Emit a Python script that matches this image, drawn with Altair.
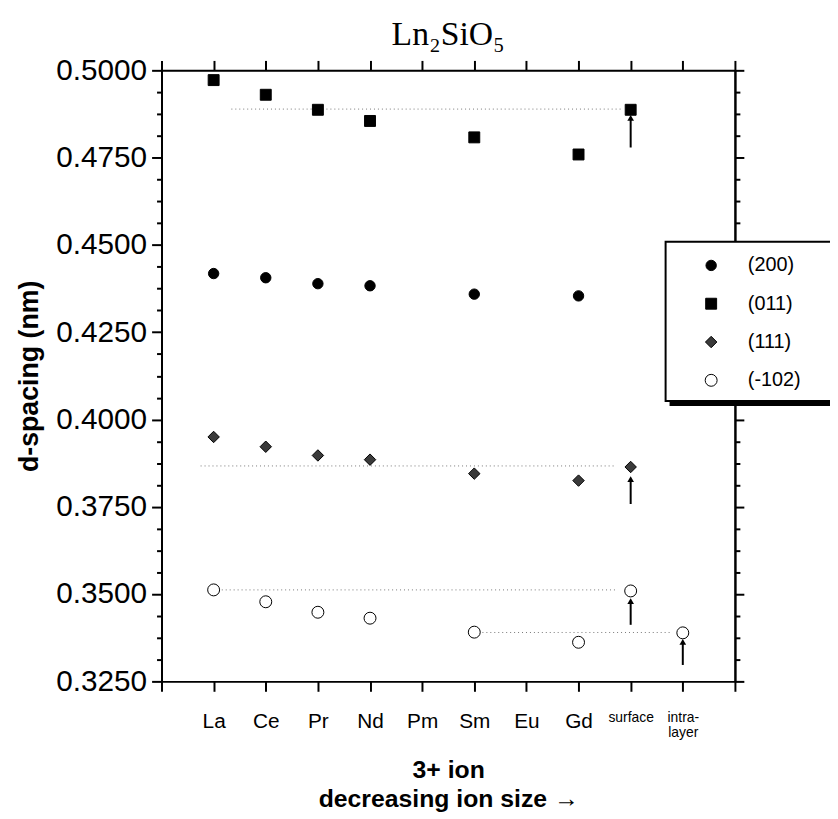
import json
import altair as alt
import pandas as pd

# ---------------- data ----------------
categories = ["La", "Ce", "Pr", "Nd", "Pm", "Sm", "Eu", "Gd", "surface", "intra-layer"]
series_names = ["(200)", "(011)", "(111)", "(-102)"]

d_200 = [0.4418, 0.4406, 0.4389, 0.4383, None, 0.4359, None, 0.4354, None, None]
d_011 = [0.4972, 0.4930, 0.4887, 0.4855, None, 0.4808, None, 0.4759, 0.4887, None]
d_111 = [0.3950, 0.3922, 0.3897, 0.3885, None, 0.3845, None, 0.3825, 0.3864, None]
d_m102 = [0.3512, 0.3478, 0.3448, 0.3431, None, 0.3391, None, 0.3362, 0.3509, 0.3389]

# dotted reference lines (level, start index, end index)
ref_level = [0.4889, 0.3867, 0.3512, 0.3390]
ref_start = [0.34, -0.25, 0.08, 5.08]
ref_end = [7.83, 7.70, 7.75, 8.75]

# arrows (category index, tip value, tail value)
arrow_idx = [8, 8, 8, 9]
arrow_tip = [0.4864, 0.3829, 0.3480, 0.3363]
arrow_tail = [0.4779, 0.3758, 0.3412, 0.3297]

y_major = [0.3250, 0.3500, 0.3750, 0.4000, 0.4250, 0.4500, 0.4750, 0.5000]
y_minor = [round(0.325 + 0.00625 * k, 5) for k in range(29) if k % 4 != 0]
x_ticks = list(range(-1, 11))

# ---------------- tables ----------------
rows = []
for name, vals in zip(series_names, [d_200, d_011, d_111, d_m102]):
    for i, v in enumerate(vals):
        if v is not None:
            rows.append({"series": name, "kind": name, "idx": i, "value": v})
points = pd.DataFrame(rows)
refs = pd.DataFrame({"level": ref_level, "x0": ref_start, "x1": ref_end})
arrows = pd.DataFrame({"idx": arrow_idx, "tip": arrow_tip, "tail": arrow_tail})
legend_rows = pd.DataFrame({"series": series_names, "kind": series_names,
                            "row": list(range(len(series_names)))})

label_lines = [c.replace("intra-layer", "intra-|layer").split("|") for c in categories]
label_expr = ("datum.value >= 0 && datum.value <= 9 ? " + json.dumps(label_lines)
              + "[datum.value] : ''")

FONT = "Liberation Sans"
xs = alt.Scale(domain=[-1, 10], nice=False, zero=False)
ys = alt.Scale(domain=[0.325, 0.5], nice=False, zero=False)
# legend box placement (plot-area pixels)
LEG_L, LEG_T, LEG_B = 509, 173, 334
rows_scale = alt.Scale(domain=[0, 3], range=[197, 313], nice=False, zero=False)

common = dict(domainColor="black", domainWidth=2, tickColor="black", tickWidth=2,
              grid=False)

bottom_axis = alt.Axis(
    orient="bottom", values=x_ticks, labelExpr=label_expr, tickSize=10,
    labelFont=FONT, labelColor="black",
    labelFontSize={"condition": {"test": "datum.value >= 8", "value": 14}, "value": 21},
    labelPadding=20, labelBaseline="top", labelLineHeight=15, labelOverlap=False,
    labelFlush=False,
    title=["3+ ion", "decreasing ion size \u2192"], titleFont=FONT, titleFontSize=25,
    titleFontWeight="bold", titleColor="black", titlePadding=18, titleLineHeight=29,
    **common)
top_axis = alt.Axis(orient="top", values=x_ticks, labels=False, tickSize=10,
                    title=None, **common)
left_major = alt.Axis(
    orient="left", values=y_major, format=".4f", tickSize=10, labelFont=FONT,
    labelFontSize=30, labelColor="black", labelPadding=5, labelOverlap=False,
    title="d-spacing (nm)", titleFont=FONT, titleFontSize=27, titleFontWeight="bold",
    titleColor="black", titlePadding=12, **common)
left_minor = alt.Axis(orient="left", values=y_minor, labels=False, tickSize=5,
                      title=None, **common)
right_major = alt.Axis(orient="right", values=y_major, labels=False, tickSize=9,
                       title=None, **common)
right_minor = alt.Axis(orient="right", values=y_minor, labels=False, tickSize=5,
                       title=None, **common)

shape_scale = alt.Scale(domain=series_names, range=["circle", "square", "diamond", "circle"])
fill_scale = alt.Scale(domain=series_names, range=["black", "black", "#3a3a3a", "white"])
size_scale = alt.Scale(domain=series_names, range=[110, 145, 420, 115])
sw_scale = alt.Scale(domain=series_names, range=[1, 1, 1.2, 2.6])

pts = alt.Chart(points).mark_point(filled=True, stroke="black", opacity=1).encode(
    x=alt.X("idx:Q", scale=xs, axis=bottom_axis),
    y=alt.Y("value:Q", scale=ys, axis=left_major),
    shape=alt.Shape("series:N", scale=shape_scale, legend=None),
    fill=alt.Fill("series:N", scale=fill_scale, legend=None),
    size=alt.Size("kind:N", scale=size_scale, legend=None),
    strokeWidth=alt.StrokeWidth("kind:N", scale=sw_scale, legend=None),
)

axis_b = alt.Chart(points).mark_point(opacity=0).encode(
    x=alt.X("idx:Q", scale=xs, axis=top_axis),
    y=alt.Y("value:Q", scale=ys, axis=left_minor))
axis_c = alt.Chart(points).mark_point(opacity=0).encode(
    x=alt.X("idx:Q", scale=xs, axis=None),
    y=alt.Y("value:Q", scale=ys, axis=right_major))
axis_d = alt.Chart(points).mark_point(opacity=0).encode(
    x=alt.X("idx:Q", scale=xs, axis=None),
    y=alt.Y("value:Q", scale=ys, axis=right_minor))

lines = alt.Chart(refs).mark_rule(color="#777777", strokeWidth=1, strokeDash=[1, 3]).encode(
    x=alt.X("x0:Q", scale=xs, axis=None),
    x2="x1:Q",
    y=alt.Y("level:Q", scale=ys, axis=None))

shafts = alt.Chart(arrows).mark_rule(color="black", strokeWidth=2).encode(
    x=alt.X("idx:Q", scale=xs, axis=None),
    y=alt.Y("tip:Q", scale=ys, axis=None),
    y2="tail:Q")
heads = alt.Chart(arrows).mark_point(shape="triangle-up", filled=True, color="black",
                                     size=45, opacity=1).encode(
    x=alt.X("idx:Q", scale=xs, axis=None),
    y=alt.Y("tip:Q", scale=ys, axis=None))

# ---------------- legend (boxed, with drop shadow) ----------------
one = alt.Data(values=[{"k": 1}])
shadow = alt.Chart(one).mark_rect(color="black").encode(
    x=alt.value(LEG_L + 4), x2=alt.value(LEG_L + 240),
    y=alt.value(LEG_T + 5), y2=alt.value(LEG_B + 5))
box = alt.Chart(one).mark_rect(fill="white", stroke="black", strokeWidth=2).encode(
    x=alt.value(LEG_L), x2=alt.value(LEG_L + 236),
    y=alt.value(LEG_T), y2=alt.value(LEG_B))
leg_sym = alt.Chart(legend_rows).mark_point(filled=True, stroke="black", opacity=1).encode(
    x=alt.value(LEG_L + 46),
    y=alt.Y("row:Q", scale=rows_scale, axis=None),
    shape=alt.Shape("series:N", scale=shape_scale, legend=None),
    fill=alt.Fill("series:N", scale=fill_scale, legend=None),
    size=alt.Size("kind:N", scale=size_scale, legend=None),
    strokeWidth=alt.StrokeWidth("kind:N", scale=sw_scale, legend=None))
leg_txt = alt.Chart(legend_rows).mark_text(align="left", baseline="middle", font=FONT,
                                           fontSize=20, color="black").encode(
    x=alt.value(LEG_L + 83),
    y=alt.Y("row:Q", scale=rows_scale, axis=None),
    text="series:N")

chart = alt.layer(
    axis_b, axis_c, axis_d, lines, shafts, heads, pts, shadow, box, leg_sym, leg_txt
).resolve_axis(x="independent", y="independent").resolve_scale(y="independent").properties(
    width=579, height=617,
    title=alt.TitleParams("Ln\u2082SiO\u2085", font="Liberation Serif", fontSize=34,
                          fontWeight="normal", color="black", anchor="middle", offset=4),
    autosize=alt.AutoSizeParams(type="none"),
    padding={"left": 155, "top": 59, "right": 96, "bottom": 133},
).configure_view(stroke=None).configure(font=FONT)

chart.save("out.html", embed_options={"renderer": "svg", "actions": False})
